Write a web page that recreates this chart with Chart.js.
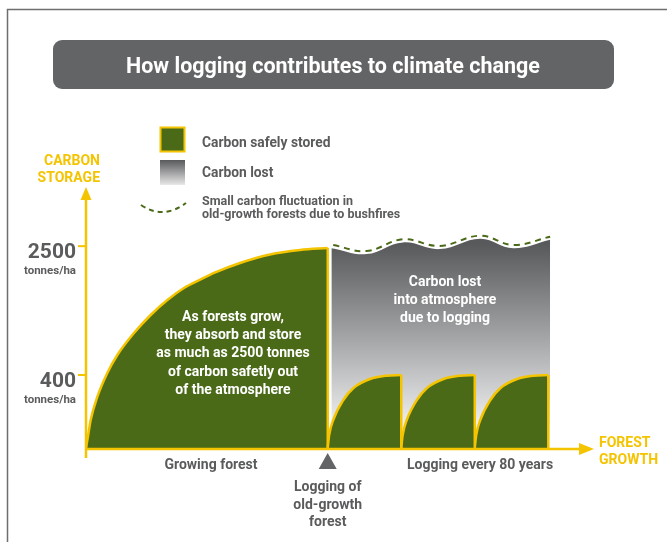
<!DOCTYPE html>
<html>
<head>
<meta charset="utf-8">
<script src="https://cdn.jsdelivr.net/npm/chart.js@4.4.1/dist/chart.umd.min.js"></script>
<style>
  html, body { margin: 0; padding: 0; background: #fff; }
  #wrap { width: 667px; height: 542px; }
</style>
</head>
<body>
<div id="wrap"><canvas id="chart" width="667" height="542"></canvas></div>
<script>
// Carbon stored (tonnes/ha) against forest age (years)
const GROW_YEARS = [0, 2.2, 5.1, 12.3, 23.2, 34.1, 52.2, 70.4, 88.5, 106.6, 124.8, 139.3, 167.6, 200.2, 232.9, 263];
const GROW_TONNES = [0, 15, 71, 210, 420, 619, 907, 1179, 1429, 1645, 1806, 1934, 2137, 2317, 2415, 2460];

// logging rotations: start year of each cycle, and the regrowth inside one cycle
const LOGGING_YEARS = [263, 343, 423];
const REGROW_YEARS = [0, 1.6, 6, 17, 28, 46, 64, 80];
const REGROW_TONNES = [0, 18, 71, 188, 281, 361, 393, 400];

// old-growth level that would have stayed (dashed) and the grey "lost" area
const WAVE_YEARS = [269, 305, 345, 385, 429, 465, 505];
const WAVE_TONNES = [2525, 2392, 2655, 2504, 2738, 2525, 2715];
const LOST_YEARS = [267, 305, 345, 385, 429, 465, 505];
const LOST_TONNES = [2455, 2325, 2585, 2435, 2670, 2455, 2645];

const Y_TICKS = [2500, 400];
const Y_TICK_UNIT = "tonnes/ha";

const TITLE = "How logging contributes to climate change";
const LEGEND_LABELS = ["Carbon safely stored", "Carbon lost"];
const LEGEND_WAVE = ["Small carbon fluctuation in", "old-growth forests due to bushfires"];
const Y_TITLE = ["CARBON", "STORAGE"];
const X_TITLE = ["FOREST", "GROWTH"];
const GROW_NOTE = ["As forests grow,", "they absorb and store", "as much as 2500 tonnes",
  "of carbon safetly out", "of the atmosphere"];
const LOST_NOTE = ["Carbon lost", "into atmosphere", "due to logging"];
const LOGGING_NOTE = ["Logging of", "old-growth", "forest"];

const YELLOW = "#f5c400";
const GREEN = "#4a6a18";
const GREY = "#5a5b5d";
const BOX = "#636466";
const FONT = 'Roboto, "Open Sans", sans-serif';

// schematic vertical axis: power scale so the low values get more room
class PowScale extends Chart.LinearScale {
  _pw(v) { return Math.pow(Math.max(v, 0), this.options.exponent || 0.5); }
  getPixelForValue(value) {
    const lo = this._pw(this.min), hi = this._pw(this.max);
    return this.getPixelForDecimal((this._pw(value) - lo) / (hi - lo));
  }
  getValueForPixel(pixel) {
    const e = this.options.exponent || 0.5;
    const lo = this._pw(this.min), hi = this._pw(this.max);
    return Math.pow(lo + this.getDecimalForPixel(pixel) * (hi - lo), 1 / e);
  }
}
PowScale.id = "pow";
PowScale.defaults = Chart.LinearScale.defaults;
Chart.register(PowScale);

function pts(xs, ys, dx) {
  return xs.map((x, i) => ({ x: x + (dx || 0), y: ys[i] }));
}

function txt(ctx, s, x, y, size, color, align) {
  ctx.font = `bold ${size}px ${FONT}`;
  ctx.fillStyle = color;
  ctx.textAlign = align || "left";
  ctx.textBaseline = "alphabetic";
  ctx.fillText(s, x, y);
}

const datasets = [];

datasets.push({
  label: "Carbon lost",
  data: pts(LOST_YEARS, LOST_TONNES),
  borderWidth: 0,
  tension: 0.4,
  fill: "origin",
  order: 6,
  backgroundColor: (c) => {
    const area = c.chart.chartArea;
    if (!area) return "#999";
    const g = c.chart.ctx.createLinearGradient(0, 244, 0, area.bottom - 4);
    g.addColorStop(0, "#58595b");
    g.addColorStop(0.5, "#a9aaac");
    g.addColorStop(1, "#ffffff");
    return g;
  },
});

datasets.push({
  label: "Fluctuation",
  data: pts(WAVE_YEARS, WAVE_TONNES),
  borderColor: GREEN,
  borderWidth: 2,
  borderDash: [6, 5],
  tension: 0.4,
  fill: false,
  order: 5,
});

datasets.push({
  label: "Growing forest",
  data: pts(GROW_YEARS, GROW_TONNES),
  borderColor: YELLOW,
  borderWidth: 2.5,
  backgroundColor: GREEN,
  cubicInterpolationMode: "monotone",
  fill: "origin",
  order: 4,
});

datasets.push({
  label: "edge",
  data: [{ x: LOGGING_YEARS[0], y: 0 }, { x: LOGGING_YEARS[0], y: GROW_TONNES[GROW_TONNES.length - 1] }],
  borderColor: YELLOW,
  borderWidth: 2.5,
  fill: false,
  order: 1,
});

LOGGING_YEARS.forEach((start) => {
  const end = start + REGROW_YEARS[REGROW_YEARS.length - 1];
  datasets.push({
    label: "Regrowth",
    data: pts(REGROW_YEARS, REGROW_TONNES, start),
    borderColor: YELLOW,
    borderWidth: 2.5,
    backgroundColor: GREEN,
    cubicInterpolationMode: "monotone",
    fill: "origin",
    order: 3,
  });
  datasets.push({
    label: "edge",
    data: [{ x: end, y: 0 }, { x: end, y: REGROW_TONNES[REGROW_TONNES.length - 1] }],
    borderColor: YELLOW,
    borderWidth: 2.5,
    fill: false,
    order: 2,
  });
});

const decor = {
  id: "decor",
  beforeDraw(chart) {
    const ctx = chart.ctx;
    ctx.save();
    ctx.fillStyle = "#fff";
    ctx.fillRect(0, 0, chart.width, chart.height);

    // frame
    ctx.strokeStyle = "#6d6e70";
    ctx.lineWidth = 1.5;
    ctx.beginPath();
    ctx.moveTo(7.5, chart.height);
    ctx.lineTo(7.5, 9.5);
    ctx.lineTo(chart.width, 9.5);
    ctx.stroke();

    // title box
    ctx.fillStyle = BOX;
    ctx.beginPath();
    ctx.roundRect(53, 40, 561, 49, 9);
    ctx.fill();
    txt(ctx, TITLE, 333, 72.5, 21.5, "#fff", "center");

    // legend
    ctx.fillStyle = YELLOW;
    ctx.fillRect(159.5, 126.5, 26, 26);
    ctx.fillStyle = GREEN;
    ctx.fillRect(161.5, 128.5, 22, 22);
    const lg = ctx.createLinearGradient(0, 160, 0, 185);
    lg.addColorStop(0, "#58595b");
    lg.addColorStop(1, "#e8e8e9");
    ctx.fillStyle = lg;
    ctx.fillRect(160, 160, 25, 25);
    ctx.strokeStyle = GREEN;
    ctx.lineWidth = 2;
    ctx.setLineDash([5, 4]);
    ctx.beginPath();
    ctx.moveTo(141, 205);
    ctx.quadraticCurveTo(163, 220, 186, 203);
    ctx.stroke();
    ctx.setLineDash([]);
    txt(ctx, LEGEND_LABELS[0], 202, 147, 13.8, GREY);
    txt(ctx, LEGEND_LABELS[1], 202, 176.5, 13.8, GREY);
    txt(ctx, LEGEND_WAVE[0], 202, 205, 12.5, GREY);
    txt(ctx, LEGEND_WAVE[1], 202, 217.5, 12.5, GREY);

    // axis titles
    txt(ctx, Y_TITLE[0], 100, 165, 14, YELLOW, "right");
    txt(ctx, Y_TITLE[1], 100, 181.5, 14, YELLOW, "right");
    ctx.restore();
  },
  afterDatasetsDraw(chart) {
    const ctx = chart.ctx;
    const { x, y } = chart.scales;
    const a = chart.chartArea;
    const x0 = x.getPixelForValue(0);
    const y0 = y.getPixelForValue(0);
    ctx.save();

    // axes with arrows
    ctx.strokeStyle = YELLOW;
    ctx.fillStyle = YELLOW;
    ctx.lineWidth = 2.5;
    ctx.beginPath();
    ctx.moveTo(x0, 458);
    ctx.lineTo(x0, a.top + 10);
    ctx.moveTo(x0, y0 + 1);
    ctx.lineTo(a.right - 14, y0 + 1);
    ctx.stroke();
    ctx.beginPath();
    ctx.moveTo(x0, a.top + 1);
    ctx.lineTo(x0 - 5.5, a.top + 14);
    ctx.lineTo(x0 + 5.5, a.top + 14);
    ctx.closePath();
    ctx.fill();
    ctx.beginPath();
    ctx.moveTo(a.right - 3, y0 + 1);
    ctx.lineTo(a.right - 18, y0 - 5);
    ctx.lineTo(a.right - 18, y0 + 7);
    ctx.closePath();
    ctx.fill();
    txt(ctx, X_TITLE[0], 599, 447, 14, YELLOW);
    txt(ctx, X_TITLE[1], 599, 464, 14, YELLOW);

    // y ticks
    Y_TICKS.forEach((v) => {
      const py = y.getPixelForValue(v);
      ctx.strokeStyle = YELLOW;
      ctx.lineWidth = 2;
      ctx.beginPath();
      ctx.moveTo(x0 - 8, py);
      ctx.lineTo(x0, py);
      ctx.stroke();
      txt(ctx, String(v), 76, py + 12, 21, GREY, "right");
      txt(ctx, Y_TICK_UNIT, 76, py + 28, 11.5, GREY, "right");
    });

    // notes inside the areas
    GROW_NOTE.forEach((s, i) => txt(ctx, s, 233, 321 + i * 18.2, 14, "#fff", "center"));
    LOST_NOTE.forEach((s, i) => txt(ctx, s, 445, 286 + i * 17.8, 14, "#fff", "center"));

    // labels under the x axis
    const lx = x.getPixelForValue(LOGGING_YEARS[0]);
    ctx.fillStyle = BOX;
    ctx.beginPath();
    ctx.moveTo(lx, 453);
    ctx.lineTo(lx - 9, 469);
    ctx.lineTo(lx + 9, 469);
    ctx.closePath();
    ctx.fill();
    txt(ctx, "Growing forest", 211, 469, 14, GREY, "center");
    txt(ctx, "Logging every 80 years", 480, 469, 14, GREY, "center");
    LOGGING_NOTE.forEach((s, i) => txt(ctx, s, lx, 491 + i * 17.5, 14, GREY, "center"));
    ctx.restore();
  },
};

new Chart(document.getElementById("chart"), {
  type: "line",
  data: { datasets },
  options: {
    responsive: false,
    animation: false,
    devicePixelRatio: 1,
    layout: { padding: { left: 86, right: 70, top: 186, bottom: 94 } },
    elements: { point: { radius: 0, hoverRadius: 0 } },
    scales: {
      x: { type: "linear", min: 0, max: 556, display: false },
      y: { type: "pow", exponent: 0.555, min: 0, max: 4000, display: false },
    },
    plugins: { legend: { display: false }, tooltip: { enabled: false } },
  },
  plugins: [decor],
});
</script>
</body>
</html>
